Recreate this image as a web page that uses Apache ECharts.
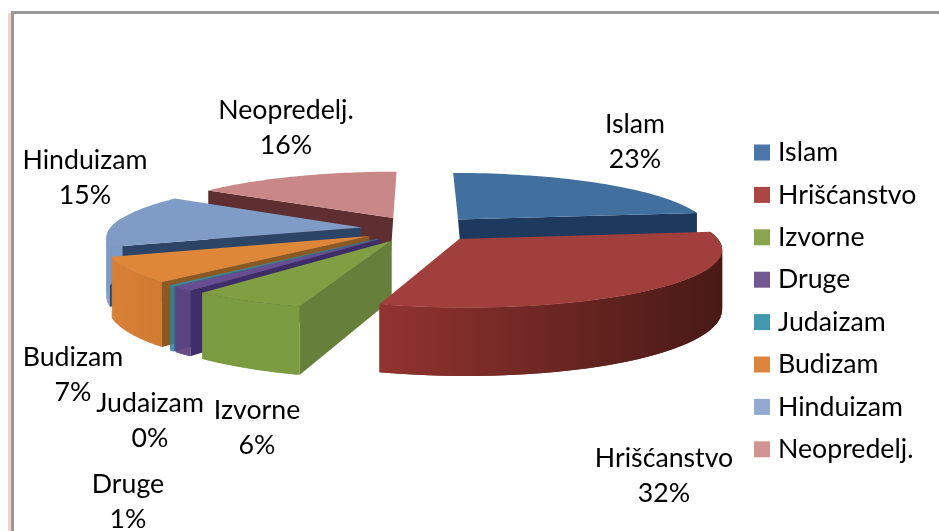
<!DOCTYPE html>
<html><head><meta charset="utf-8">
<style>html,body{margin:0;padding:0;background:#fff}#c{width:939px;height:531px;filter:blur(0.45px)}</style>
<script src="https://cdn.jsdelivr.net/npm/echarts@6/dist/echarts.min.js"></script>
</head><body><div id="c"></div>
<script>
const categories = ['Islam','Hrišćanstvo','Izvorne','Druge','Judaizam','Budizam','Hinduizam','Neopredelj.'];
const values = [23,31.6,6.2,1.2,0.3,7.2,15,15.5];

const legendColors = ['#4a76aa','#aa4643','#89a54e','#71588f','#4198af','#db843d','#93a9cf','#d19392'];
const topColors    = ['#41709f','#a13f3c','#7f9f42','#6a4c92','#3d88a3','#df8738','#7f9cc6','#c98787'];
const wallColors   = ['#1d3a5e','#6b2523','#667f3a','#3f2d68','#2f6f8a','#8a5a22','#2c4566','#5e2e30'];
const arcLeft      = ['#1d3a5e','#91332f','#7b9b40','#5d4080','#35809c','#d88035','#7d9ac4','#a86a6a'];
const arcRight     = ['#1d3a5e','#481a16','#7b9b40','#5d4080','#35809c','#d07a32','#7d9ac4','#a86a6a'];
const zOrder       = [1,7,6,5,4,3,2,0];
const labelCenters = [[635,142],[664,476],[257,428],[128,502],[150,421],[73,375],[85,178],[286,128]];

const geo = {cx:420, cy:229, rx:252, A:55.8, kx:0.15, ky:0.1415, h:57, ox:59, ov:0.23};
const total = values.reduce((a,b)=>a+b,0);
const starts = []; { let acc=0; values.forEach(v=>{starts.push(acc/total*Math.PI*2); acc+=v;}); }

function proj(X,V,drop){
  const sy = 1/(1-geo.ky*V);
  return [geo.cx + X/(1-geo.kx*V), geo.cy + geo.A*V*sy + (drop?geo.h*sy:0)];
}
function renderSlice(i){
  return function(params, api){
    const value = api.value(0);
    const a0 = starts[i], a1 = a0 + value/total*Math.PI*2, mid=(a0+a1)/2;
    const ax = geo.ox*Math.sin(mid), av = -geo.ov*Math.cos(mid);
    const pt = (a,d)=>proj(ax+geo.rx*Math.sin(a), av-Math.cos(a), d);
    const apexT = proj(ax,av,false), apexB = proj(ax,av,true);
    const n = 48, arcT=[];
    for(let k=0;k<=n;k++) arcT.push(pt(a0+(a1-a0)*k/n,false));
    const children=[];
    const midT = pt(mid,false);
    const wall = (a)=>{
      const c = pt(a,false), cb = pt(a,true);
      const dx=c[0]-apexT[0], dy=c[1]-apexT[1];
      if(Math.abs(dx)<8) return;
      const lineY = apexT[1]+dy*(midT[0]-apexT[0])/dx;
      if(midT[1] < lineY){
        const t = Math.cos(mid)>0 ? 0.02 : 0;
        const inner = [apexB[0]+(cb[0]-apexB[0])*t, apexB[1]+(cb[1]-apexB[1])*t];
        children.push({type:'polygon',shape:{points:[apexT,c,cb,inner]},style:{fill:wallColors[i]}});
      }
    };
    wall(a0); wall(a1);
    const lo=Math.max(a0,80*Math.PI/180), hi=Math.min(a1,280*Math.PI/180);
    if(hi>lo){
      const tops=[],bots=[];
      for(let k=0;k<=n;k++){const a=lo+(hi-lo)*k/n; tops.push(pt(a,false)); bots.push(pt(a,true));}
      const xs=tops.concat(bots).map(p=>p[0]);
      const fill={type:'linear',global:true,x:Math.min(...xs),y:0,x2:Math.max(...xs),y2:0,
        colorStops:[{offset:0,color:arcLeft[i]},{offset:1,color:arcRight[i]}]};
      for(let k=0;k<n;k++){
        const e=Math.min(k+2,n);
        children.push({type:'polygon',shape:{points:[tops[k],tops[e],bots[e],bots[k]]},style:{fill}});
      }
    }
    children.push({type:'polygon',shape:{points:[apexT].concat(arcT)},style:{fill:topColors[i]}});
    children.push({type:'text',z2:100,style:{text:categories[i]+'\n'+Math.round(value)+'%',x:labelCenters[i][0],y:labelCenters[i][1],
      textAlign:'center',textVerticalAlign:'middle',fontFamily:'Lato',fontSize:26.7,lineHeight:35.5,fill:'#000'}});
    return {type:'group',children};
  };
}
const chart = echarts.init(document.getElementById('c'),null,{renderer:'canvas'});
chart.setOption({
  animation:false,
  backgroundColor:'#fff',
  graphic:[
    {type:'rect',shape:{x:8,y:13,width:3,height:518},style:{fill:'#f7cfcf'},silent:true},
    {type:'rect',shape:{x:11,y:11,width:928,height:3},style:{fill:'#999'},silent:true},
    {type:'rect',shape:{x:11,y:11,width:3,height:520},style:{fill:'#999'},silent:true}
  ],
  legend:{
    left:754, top:139, padding:0, orient:'vertical', icon:'rect', itemWidth:16, itemHeight:16, itemGap:15.4,
    data:categories,
    textStyle:{fontFamily:'Lato',fontSize:26.7,lineHeight:26,color:'#000',padding:[0,0,0,3]}
  },
  series: categories.map((name,i)=>({
    type:'custom', name, coordinateSystem:'none', z:2+zOrder[i],
    itemStyle:{color:legendColors[i]}, silent:true,
    data:[[values[i]]], renderItem:renderSlice(i)
  }))
});
</script></body></html>
